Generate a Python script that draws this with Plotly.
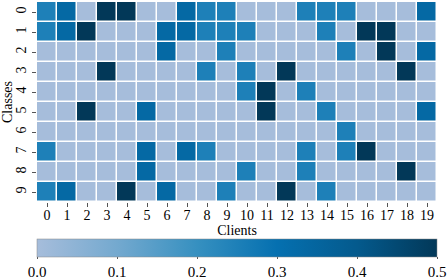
import plotly.graph_objects as go

clients = [str(i) for i in range(20)]
classes = [str(i) for i in range(10)]

# client -> value per class (rows = classes 0..9, cols = clients 0..19)
A = 0.25
B = 1/3
C = 0.5
row0 = [A, B, 0, C, C, 0, 0, B, A, A, 0, 0, 0, A, A, A, 0, 0, 0, B]
row1 = [A, B, C, 0, 0, 0, B, B, A, A, A, 0, 0, 0, A, 0, C, C, 0, 0]
row2 = [0, 0, 0, 0, 0, 0, B, 0, 0, A, 0, 0, 0, 0, 0, A, 0, C, 0, B]
row3 = [0, 0, 0, C, 0, 0, 0, 0, A, 0, A, 0, C, 0, 0, 0, 0, 0, C, 0]
row4 = [0, 0, 0, 0, 0, 0, 0, 0, 0, 0, A, C, 0, A, 0, 0, 0, 0, 0, 0]
row5 = [0, 0, C, 0, 0, B, 0, 0, 0, 0, 0, C, 0, 0, A, 0, 0, 0, 0, B]
row6 = [0, 0, 0, 0, 0, 0, 0, 0, 0, 0, 0, 0, 0, 0, 0, A, 0, 0, 0, 0]
row7 = [A, 0, 0, 0, 0, B, 0, B, A, 0, 0, 0, 0, A, 0, A, C, 0, 0, 0]
row8 = [0, 0, 0, 0, 0, B, 0, 0, 0, 0, A, 0, 0, A, 0, 0, 0, 0, C, 0]
row9 = [A, B, 0, 0, C, 0, B, 0, 0, A, 0, 0, C, 0, A, 0, 0, 0, 0, 0]
z = [row0, row1, row2, row3, row4, row5, row6, row7, row8, row9]

colorscale = [[0.0, "#a6bddb"], [0.2, "#74a9cf"], [0.4, "#3690c0"],
              [0.6, "#0570b0"], [0.8, "#045a8d"], [1.0, "#023858"]]

font = "Liberation Serif, Times New Roman, serif"

fig = go.Figure(go.Heatmap(
    z=z, x=clients, y=classes,
    zmin=0, zmax=0.5, colorscale=colorscale,
    xgap=1.5, ygap=1.5,
    colorbar=dict(
        orientation="h", x=0, xanchor="left", len=1, lenmode="fraction",
        y=-0.185, yanchor="top", thickness=18, xpad=0, ypad=0,
        outlinewidth=0.5, outlinecolor="#888",
        tickvals=[0, 0.1, 0.2, 0.3, 0.4, 0.5],
        ticktext=["0.0", "0.1", "0.2", "0.3", "0.4", "0.5"],
        ticks="outside", ticklen=2, tickcolor="#555",
        tickfont=dict(family=font, size=15, color="black"),
    ),
))

fig.update_layout(
    width=448, height=279,
    margin=dict(l=37, r=11, t=2, b=77, autoexpand=False),
    paper_bgcolor="white", plot_bgcolor="white",
    font=dict(family=font, color="black"),
)
fig.update_xaxes(
    title=dict(text="Clients", font=dict(family=font, size=14), standoff=0),
    tickfont=dict(family=font, size=14), ticks="outside", ticklen=4,
    ticklabelstandoff=-4,
    tickcolor="#555", showgrid=False, zeroline=False, showline=False,
    automargin=False,
)
fig.update_yaxes(
    title=dict(text="Classes", font=dict(family=font, size=14), standoff=0),
    tickfont=dict(family=font, size=14), ticks="outside", ticklen=4,
    tickcolor="#555", tickangle=-90, autorange="reversed",
    showgrid=False, zeroline=False, showline=False, automargin=False,
)

fig.write_html(
    "out.html",
    config={"displayModeBar": False},
    post_script="document.body.style.margin='0';document.body.style.overflow='hidden';",
)
